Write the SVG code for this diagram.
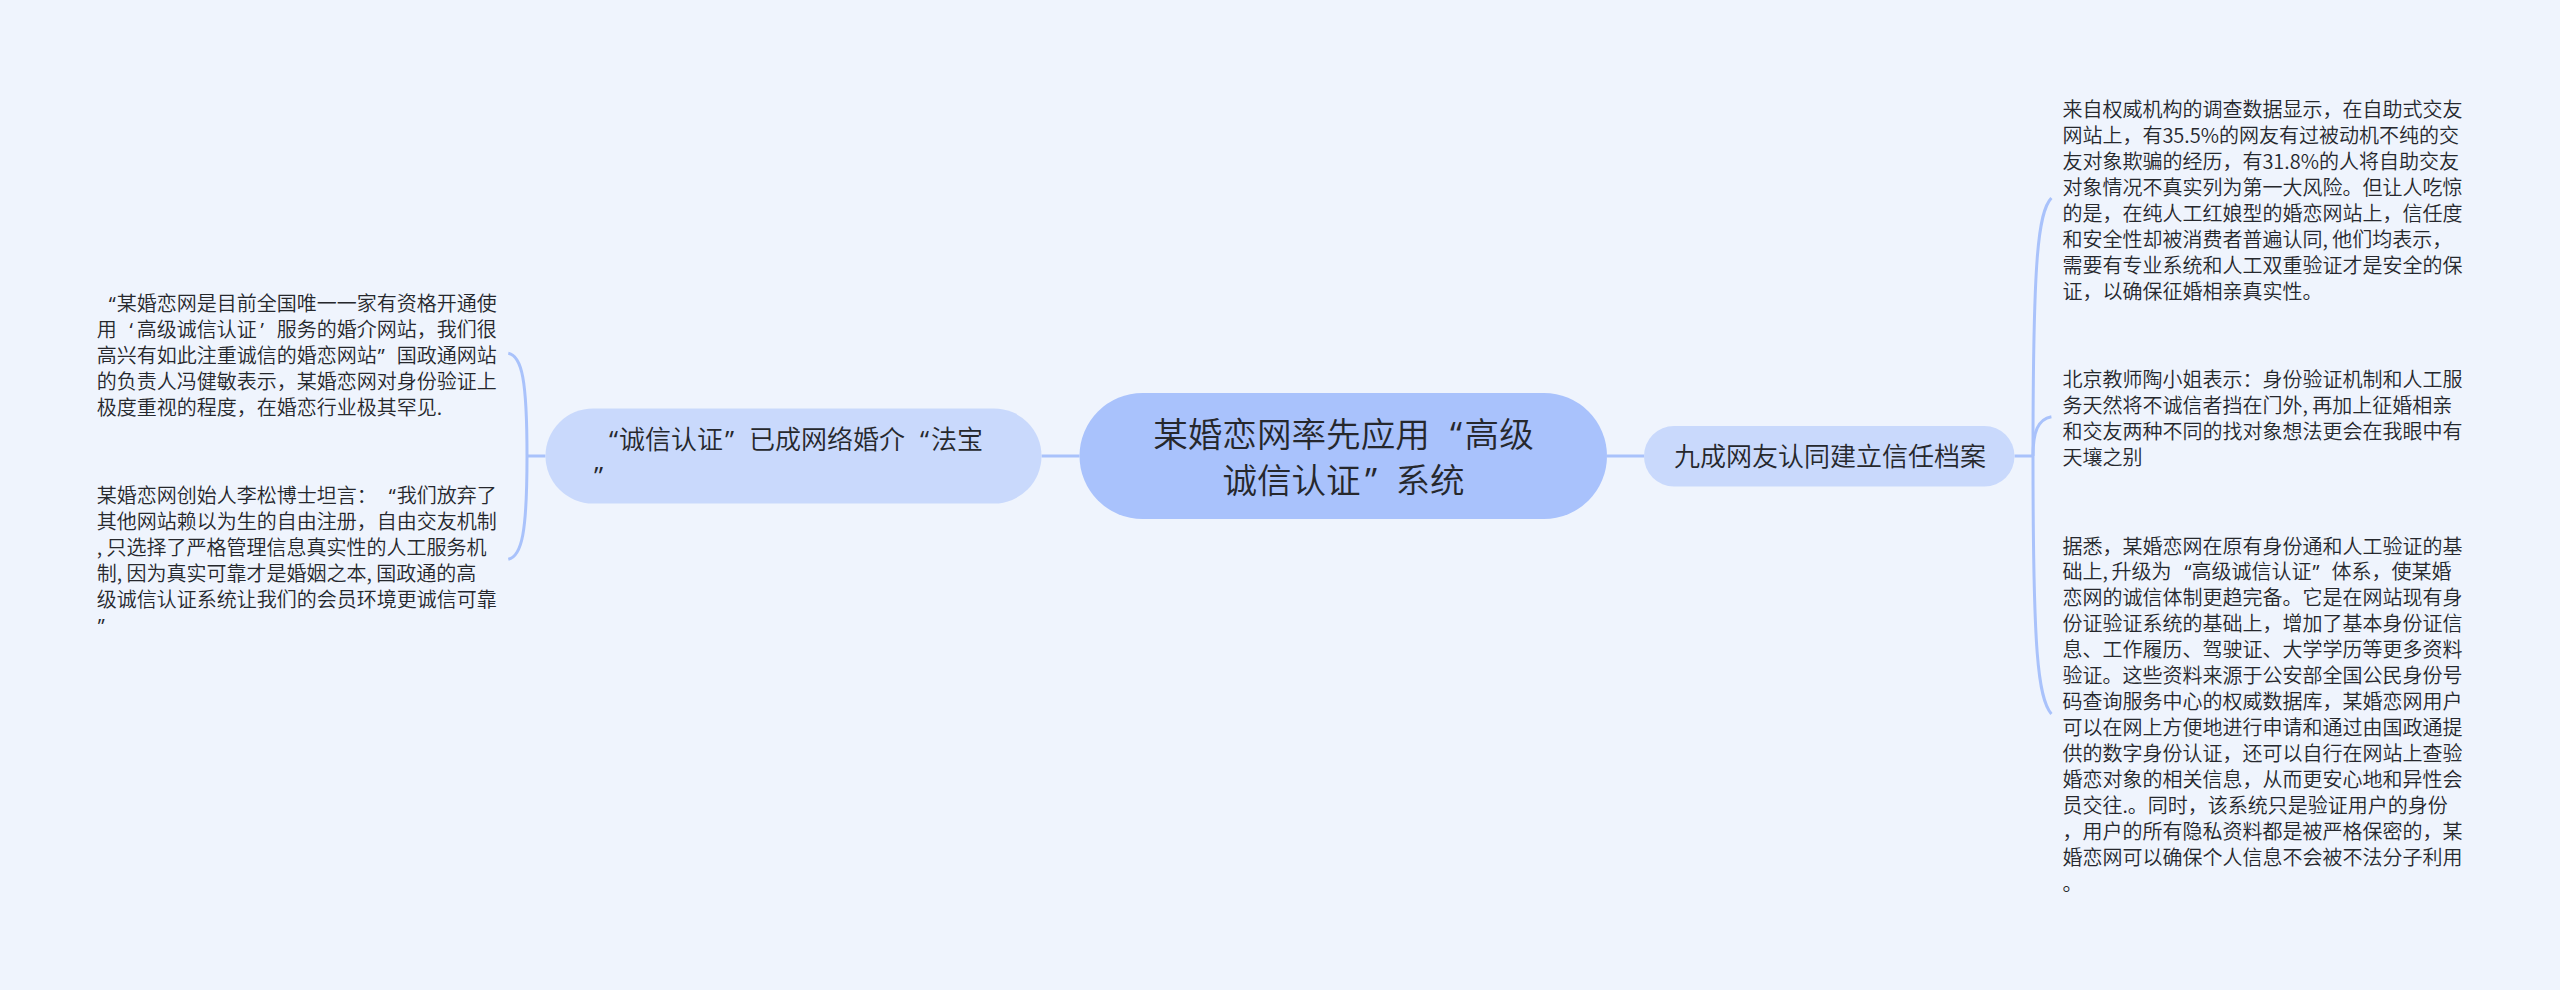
<svg xmlns="http://www.w3.org/2000/svg" width="2560" height="990" viewBox="0 0 2560 990">
<style>
text{font-family:"Noto Sans CJK SC","Noto Sans",sans-serif;fill:#26282d;text-spacing-trim:space-all;font-weight:350}
.q{font-family:"Open Sans","Noto Sans",sans-serif;font-weight:400}
.b text{font-size:20px}
.n text{font-size:26px}
.c text{font-size:34.600px}
.l{fill:none;stroke:#a9c2fb;stroke-width:3}
</style>
<rect width="2560" height="990" fill="#eff4fd"/>
<g id="connectors">
<path class="l" d="M1079.500 456H1041.500M1607 456H1644"/>
<path class="l" d="M545.500 456H527M2014.500 456H2033"/>
<path class="l" d="M508.300 353.300C522 356 527 380 527 456C527 532 522 556 508.300 559.300"/>
<path class="l" d="M2051.400 198C2038 212 2033 260 2033 456C2033 652 2038 698 2051.400 714"/>
<path class="l" d="M2051.400 416.700C2038 419 2033 432 2033 456"/>
</g>
<g id="root" class="c">
<rect x="1079.500" y="393" width="527.500" height="126" rx="63" fill="#a9c2fc"/>
<text x="1153.200" y="447.400">某婚恋网率先应用<tspan class="q" x="1450">“</tspan><tspan x="1464.600">高级</tspan></text>
<text x="1222.400" y="493.400">诚信认证<tspan class="q" x="1365">”</tspan><tspan x="1395.400">系统</tspan></text>
</g>
<g id="branch-left" class="n">
<rect x="545.500" y="408.500" width="496" height="95" rx="47.500" fill="#c9d9fc"/>
<text y="449"><tspan class="q" x="609">“</tspan><tspan x="619">诚信认证</tspan><tspan class="q" x="725">”</tspan><tspan x="749">已成网络婚介</tspan><tspan class="q" x="920">“</tspan><tspan x="931">法宝</tspan></text>
<text class="q" x="594" y="485">”</text>
</g>
<g id="branch-right" class="n">
<rect x="1644" y="426" width="370.500" height="60.500" rx="30" fill="#c9d9fc"/>
<text x="1674" y="466">九成网友认同建立信任档案</text>
</g>
<g id="leaf-l1" class="b">
<text y="311"><tspan class="q" x="108.700">“</tspan><tspan x="116.700">某婚恋网是目前全国唯一一家有资格开通使</tspan></text>
<text x="96.700" y="336.950">用<tspan class="q" x="129.500">‘</tspan><tspan x="136.700">高级诚信认证</tspan><tspan class="q" x="260.500">’</tspan><tspan x="276.700">服务的婚介网站，我们很</tspan></text>
<text x="96.700" y="362.900">高兴有如此注重诚信的婚恋网站<tspan class="q" x="377.700">”</tspan><tspan x="396.700">国政通网站</tspan></text>
<text x="96.700" y="388.850">的负责人冯健敏表示，某婚恋网对身份验证上</text>
<text x="96.700" y="414.800">极度重视的程度，在婚恋行业极其罕见.</text>
</g>
<g id="leaf-l2" class="b">
<text x="96.700" y="503">某婚恋网创始人李松博士坦言：<tspan class="q" x="388.700">“</tspan><tspan x="396.700">我们放弃了</tspan></text>
<text x="96.700" y="528.950">其他网站赖以为生的自由注册，自由交友机制</text>
<text x="96.700" y="554.900">, 只选择了严格管理信息真实性的人工服务机</text>
<text x="96.700" y="580.850">制, 因为真实可靠才是婚姻之本, 国政通的高</text>
<text x="96.700" y="606.800">级诚信认证系统让我们的会员环境更诚信可靠</text>
<text class="q" x="97.700" y="632.750">”</text>
</g>
<g id="leaf-r1" class="b">
<text x="2062.400" y="117">来自权威机构的调查数据显示，在自助式交友</text>
<text x="2062.400" y="142.950">网站上，有35.5%的网友有过被动机不纯的交</text>
<text x="2062.400" y="168.900">友对象欺骗的经历，有31.8%的人将自助交友</text>
<text x="2062.400" y="194.850">对象情况不真实列为第一大风险。但让人吃惊</text>
<text x="2062.400" y="220.800">的是，在纯人工红娘型的婚恋网站上，信任度</text>
<text x="2062.400" y="246.750">和安全性却被消费者普遍认同, 他们均表示，</text>
<text x="2062.400" y="272.700">需要有专业系统和人工双重验证才是安全的保</text>
<text x="2062.400" y="298.650">证，以确保征婚相亲真实性。</text>
</g>
<g id="leaf-r2" class="b">
<text x="2062.400" y="387">北京教师陶小姐表示：身份验证机制和人工服</text>
<text x="2062.400" y="412.950">务天然将不诚信者挡在门外, 再加上征婚相亲</text>
<text x="2062.400" y="438.900">和交友两种不同的找对象想法更会在我眼中有</text>
<text x="2062.400" y="464.850">天壤之别</text>
</g>
<g id="leaf-r3" class="b">
<text x="2062.400" y="553.500">据悉，某婚恋网在原有身份通和人工验证的基</text>
<text x="2062.400" y="579.450">础上, <tspan x="2111.500">升级为</tspan><tspan class="q" x="2184.500">“</tspan><tspan x="2191.500">高级诚信认证</tspan><tspan class="q" x="2312.500">”</tspan><tspan x="2331.500">体系，使某婚</tspan></text>
<text x="2062.400" y="605.400">恋网的诚信体制更趋完备。它是在网站现有身</text>
<text x="2062.400" y="631.350">份证验证系统的基础上，增加了基本身份证信</text>
<text x="2062.400" y="657.300">息、工作履历、驾驶证、大学学历等更多资料</text>
<text x="2062.400" y="683.250">验证。这些资料来源于公安部全国公民身份号</text>
<text x="2062.400" y="709.200">码查询服务中心的权威数据库，某婚恋网用户</text>
<text x="2062.400" y="735.150">可以在网上方便地进行申请和通过由国政通提</text>
<text x="2062.400" y="761.100">供的数字身份认证，还可以自行在网站上查验</text>
<text x="2062.400" y="787.050">婚恋对象的相关信息，从而更安心地和异性会</text>
<text x="2062.400" y="813">员交往.。同时，该系统只是验证用户的身份</text>
<text x="2062.400" y="838.950">，用户的所有隐私资料都是被严格保密的，某</text>
<text x="2062.400" y="864.900">婚恋网可以确保个人信息不会被不法分子利用</text>
<text x="2062.400" y="890.850">。</text>
</g>
</svg>
